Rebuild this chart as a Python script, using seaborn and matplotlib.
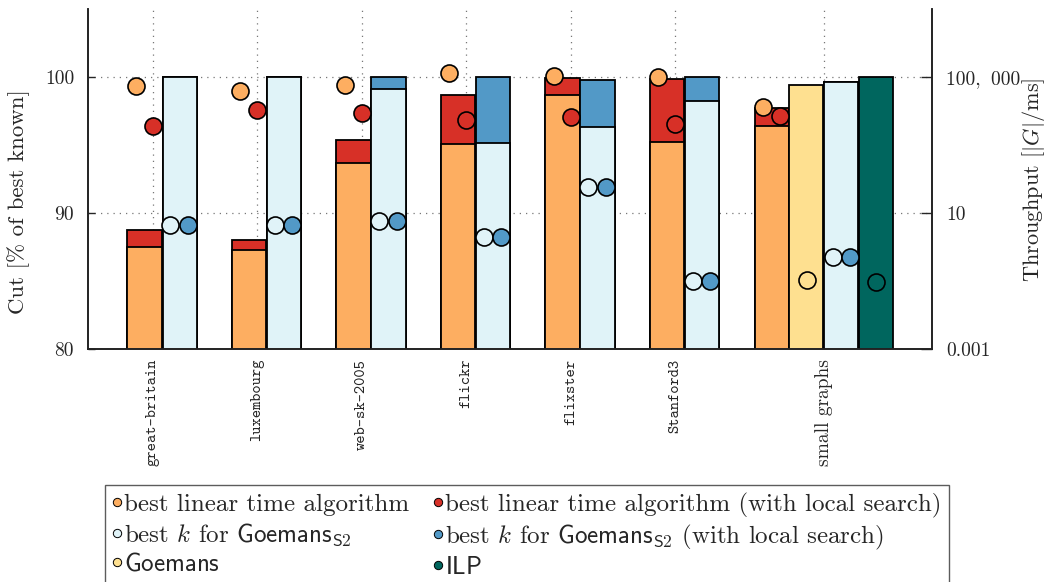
import numpy as np
import pandas as pd
import seaborn as sns
import matplotlib.pyplot as plt
from matplotlib.lines import Line2D
from matplotlib.ticker import FixedLocator, FixedFormatter

# ---- data -------------------------------------------------------------
graphs = ["great-britain", "luxembourg", "web-sk-2005", "flickr",
          "flixster", "Stanford3"]
small_label = "small graphs"

# cut size in % of the best known cut (large graphs + small-graph average)
cut_linear = [87.5, 87.3, 93.7, 95.1, 98.65, 95.2, 96.4]
cut_linear_ls = [88.75, 88.0, 95.4, 98.7, 99.95, 99.85, 97.7]
cut_gs2 = [100.0, 100.0, 99.1, 95.15, 96.3, 98.25, 99.6]
cut_gs2_ls = [100.0, 100.0, 100.0, 100.0, 99.8, 100.0, 99.6]
cut_goemans = [99.4]
cut_ilp = [100.0]

# throughput in |G| per millisecond
tp_linear = [54300, 39500, 58000, 134000, 110000, 98000, 13400]
tp_linear_ls = [3700, 11000, 8700, 5400, 6500, 4050, 7300]
tp_gs2 = [4.3, 4.3, 5.9, 2.0, 59, 0.1, 0.51]
tp_gs2_ls = [4.3, 4.3, 5.9, 2.0, 59, 0.1, 0.51]
tp_goemans = [0.107]
tp_ilp = [0.095]

left_ticks = [80, 90, 100]
right_ticks = [0.001, 10, 100000]
right_ticklabels = ["0.001", "10", "100, \u2009000"]

# ---- colours ----------------------------------------------------------
C_LIN = "#fdae61"
C_LIN_LS = "#d73027"
C_GS2 = "#e0f3f8"
C_GS2_LS = "#5299c7"
C_GOE = "#fee090"
C_ILP = "#00665e"

# ---- layout -----------------------------------------------------------
group_x = np.array([0, 1, 2, 3, 4, 5, 6.42])
large = np.arange(6)
small = 6
BW = 0.326

# bar and marker offsets relative to each group's tick
bar_off_large = {"lin": -0.081, "gs2": 0.254}
bar_off_small = {"lin": -0.498, "goe": -0.167, "gs2": 0.167, "ilp": 0.498}
pt_off_large = {"lin": -0.163, "lin_ls": 0.0, "gs2": 0.167, "gs2_ls": 0.335}
pt_off_small = {"lin": -0.584, "lin_ls": -0.421, "goe": -0.163,
                "gs2": 0.086, "gs2_ls": 0.249, "ilp": 0.498}


def positions(key, off_large, off_small, n=7):
    xs = [group_x[i] + off_large[key] for i in range(min(n, 6))]
    if n == 7:
        xs.append(group_x[small] + off_small[key])
    return np.array(xs)


sns.set_theme(style="white")
plt.rcParams["font.family"] = ["cmr10", "DejaVu Serif"]
plt.rcParams["mathtext.fontset"] = "cm"
plt.rcParams["axes.formatter.use_mathtext"] = True
plt.rcParams["axes.unicode_minus"] = False

fig = plt.figure(figsize=(10.51, 5.82), dpi=100)
ax = fig.add_axes([88 / 1051, 1 - 349 / 582, 844 / 1051, 340 / 582])

bar_kw = dict(native_scale=True, width=BW, edgecolor="black",
              linewidth=1.3, errorbar=None, ax=ax, saturation=1)

x_lin = np.append(group_x[large] + bar_off_large["lin"],
                  group_x[small] + bar_off_small["lin"])
x_gs2 = np.append(group_x[large] + bar_off_large["gs2"],
                  group_x[small] + bar_off_small["gs2"])

# stacked look: improved value drawn first, base value over it
sns.barplot(x=x_lin, y=cut_linear_ls, color=C_LIN_LS, **bar_kw)
sns.barplot(x=x_lin, y=cut_linear, color=C_LIN, **bar_kw)
sns.barplot(x=x_gs2, y=cut_gs2_ls, color=C_GS2_LS, **bar_kw)
sns.barplot(x=x_gs2, y=cut_gs2, color=C_GS2, **bar_kw)
sns.barplot(x=[group_x[small] + bar_off_small["goe"]], y=cut_goemans,
            color=C_GOE, **bar_kw)
sns.barplot(x=[group_x[small] + bar_off_small["ilp"]], y=cut_ilp,
            color=C_ILP, **bar_kw)

ax.set_xlim(-0.622, 7.455)
ax.set_ylim(80, 105)
ax.set_xlabel("")
ax.set_ylabel("Cut [% of best known]", fontsize=16.5)
ax.yaxis.set_label_coords(-0.069, 0.435)
ax.yaxis.set_major_locator(FixedLocator(left_ticks))
ax.set_yticklabels([str(t) for t in left_ticks], fontsize=14)
ax.set_xticks(group_x)
ax.set_xticklabels(graphs + [small_label], rotation=90, fontsize=11.3,
                   va="top", ha="center")
for lbl in ax.get_xticklabels()[:6]:
    lbl.set_family("cmtt10")
ax.get_xticklabels()[6].set_fontsize(14)
ax.tick_params(axis="x", length=0, pad=7)
ax.tick_params(axis="y", direction="in", length=5, width=1, pad=10,
               left=True)
ax.set_axisbelow(True)
ax.grid(True, linestyle=(0, (1, 4)), color="#777777", linewidth=0.9)
for s in ["left", "bottom", "right"]:
    ax.spines[s].set_color("#222222")
    ax.spines[s].set_linewidth(1.2)
ax.spines["top"].set_visible(False)

# throughput markers on a logarithmic right axis
ax2 = ax.twinx()
ax2.set_yscale("log")
pts = [
    ("lin", tp_linear, C_LIN), ("lin_ls", tp_linear_ls, C_LIN_LS),
    ("gs2", tp_gs2, C_GS2), ("gs2_ls", tp_gs2_ls, C_GS2_LS),
]
for key, vals, col in pts:
    xs = positions(key, pt_off_large, pt_off_small)
    sns.scatterplot(x=xs, y=vals, color=col, s=150, edgecolor="black",
                    linewidth=1.2, ax=ax2, zorder=3)
sns.scatterplot(x=[group_x[small] + pt_off_small["goe"]], y=tp_goemans,
                color=C_GOE, s=150, edgecolor="black", linewidth=1.2,
                ax=ax2, zorder=3)
sns.scatterplot(x=[group_x[small] + pt_off_small["ilp"]], y=tp_ilp,
                color=C_ILP, s=150, edgecolor="black", linewidth=1.2,
                ax=ax2, zorder=3)
ax2.set_xlim(-0.622, 7.455)
ax2.set_ylim(1e-3, 1e7)
ax2.yaxis.set_major_locator(FixedLocator(right_ticks))
ax2.yaxis.set_major_formatter(FixedFormatter(right_ticklabels))
ax2.yaxis.set_minor_locator(FixedLocator([]))
ax2.tick_params(axis="y", direction="in", length=8, width=1, pad=10,
                labelsize=14, right=True)
ax2.set_ylabel(r"Throughput $[|G|/\mathrm{ms}]$", fontsize=16)
ax2.yaxis.set_label_coords(1.104, 0.497)
ax2.grid(False)
for s in ["left", "bottom", "right"]:
    ax2.spines[s].set_color("#222222")
    ax2.spines[s].set_linewidth(1.2)
ax2.spines["top"].set_visible(False)


# legend
def handle(col):
    return Line2D([], [], linestyle="none", marker="o", markersize=6,
                  markerfacecolor=col, markeredgecolor="black",
                  markeredgewidth=0.7)


handles = [handle(C_LIN), handle(C_GS2), handle(C_GOE),
           handle(C_LIN_LS), handle(C_GS2_LS), handle(C_ILP)]
labels = [
    "best linear time algorithm",
    r"best $k$ for $\mathsf{Goemans}_{\mathsf{S2}}$",
    r"$\mathsf{Goemans}$",
    "best linear time algorithm (with local search)",
    r"best $k$ for $\mathsf{Goemans}_{\mathsf{S2}}$ (with local search)",
    r"$\mathsf{ILP}$",
]
leg = fig.legend(handles, labels, ncol=2, loc="upper left",
                 bbox_to_anchor=(105 / 1051, 1 - 485 / 582),
                 fontsize=18, frameon=True, fancybox=False,
                 edgecolor="#333333", borderpad=0.3, handlelength=0.35,
                 handletextpad=0.1, columnspacing=1.0, labelspacing=0.2,
                 borderaxespad=0)
leg.get_frame().set_linewidth(1.0)

fig.savefig("out.png", dpi=100)
